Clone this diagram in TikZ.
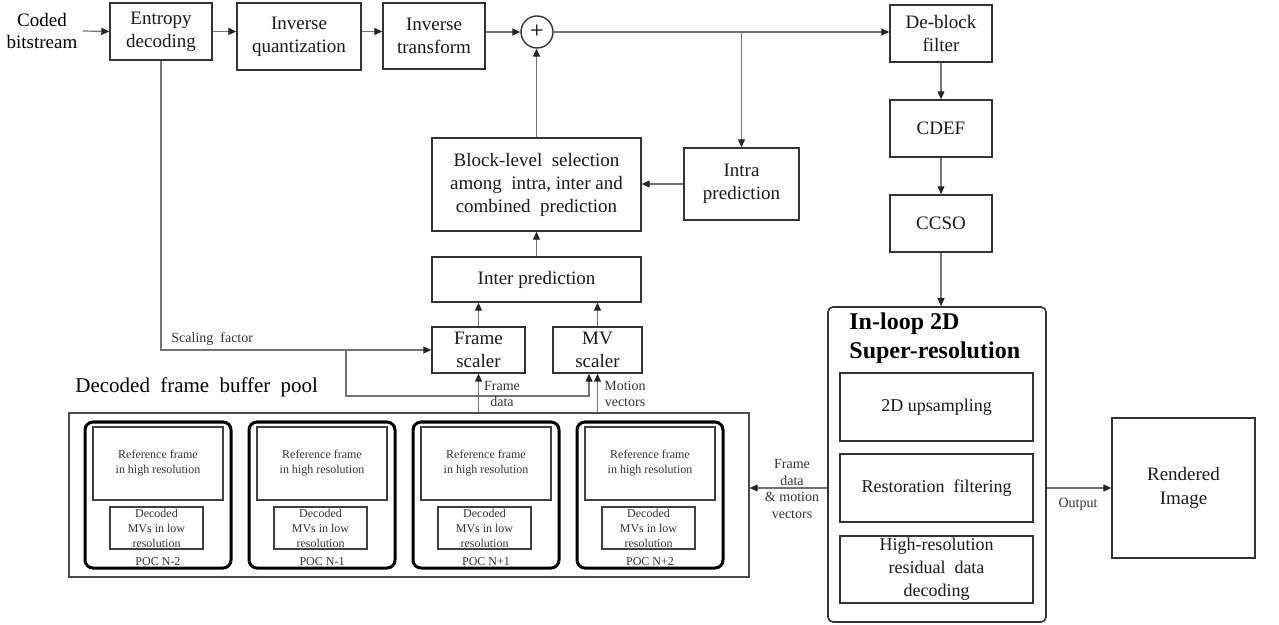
\documentclass[tikz,border=0pt]{standalone}
\usepackage{fontspec}
\setmainfont{Liberation Serif}
\usepackage{tikz}
\usetikzlibrary{arrows.meta}

\begin{document}
\begin{tikzpicture}[x=0.5pt, y=-0.5pt,
    >={Triangle[length=4pt,width=3.5pt,color=black!85]},
    blk/.style={draw=black!80, line width=0.7pt, align=center, inner sep=0pt,
        text=black!90, font=\fontsize{9.5}{11.5}\selectfont},
    sub/.style={blk, font=\fontsize{9}{11.5}\selectfont},
    tiny/.style={align=center, inner sep=0pt, text=black!80, font=\fontsize{6}{7.5}\selectfont},
    lbl/.style={align=center, inner sep=0pt, text=black!80, font=\fontsize{7}{8.3}\selectfont},
    wire/.style={draw=black!55, line width=0.6pt},
    flow/.style={wire, ->}]
        \useasboundingbox (0,0) rectangle (1279,625);

        % Input and top decoding chain
        \node[align=center, inner sep=0pt, font=\fontsize{9.5}{11}\selectfont] (bits) at (42,31) {Coded\\bitstream};
        \node[blk, minimum width=51pt, minimum height=28.5pt] (ent) at (161,31.5) {Entropy\\decoding};
        \node[blk, minimum width=62pt, minimum height=33.5pt] (iq) at (299,36.5) {Inverse\\quantization};
        \node[blk, minimum width=51pt, minimum height=33pt] (it) at (434,36) {Inverse\\transform};
        \node[draw=black!80, line width=0.7pt, circle, minimum size=16pt, inner sep=0pt,
            font=\fontsize{12}{12}\selectfont] (plus) at (537,32) {+};

        \draw[flow] ([xshift=2.5pt]bits.east) -- (ent.west);
        \draw[flow] (ent.east) -- (ent.east -| iq.west);
        \draw[flow] (iq.east |- ent.east) -- (it.west |- ent.east);
        \draw[flow] (it.east |- plus) -- (plus.west);

        % Loop filters on the right
        \node[blk, minimum width=51pt, minimum height=28.5pt] (dbk) at (941,33.5) {De-block\\filter};
        \node[blk, minimum width=51pt, minimum height=28.5pt] (cdef) at (941,128.5) {CDEF};
        \node[blk, minimum width=51pt, minimum height=28.5pt] (ccso) at (941,223.5) {CCSO};

        \draw[flow] (plus.east) -- (plus.east -| dbk.west);
        \draw[flow] (dbk.south) -- (cdef.north);
        \draw[flow] (cdef.south) -- (ccso.north);

        % Prediction
        \node[blk, minimum width=104.5pt, minimum height=46.5pt] (sel) at (536.5,184.5)
            {Block-level\ \ selection\\among\ \ intra,\ inter and\\combined\ \ prediction};
        \node[blk, minimum width=57.5pt, minimum height=36pt] (intra) at (741.5,184) {Intra\\prediction};
        \node[blk, minimum width=104.5pt, minimum height=22.5pt] (inter) at (536.5,279.5) {Inter prediction};
        \node[blk, minimum width=46.5pt, minimum height=23pt] (fscal) at (478.5,350) {Frame\\scaler};
        \node[blk, minimum width=44.5pt, minimum height=23pt] (mvscal) at (597.5,350) {MV\\scaler};

        \draw[flow] (intra.north |- plus) -- (intra.north);
        \draw[flow] (intra.west) -- (intra.west -| sel.east);
        \draw[flow] (sel.north) -- (sel.north |- plus.south);
        \draw[flow] (inter.north) -- (sel.south);
        \draw[flow] (fscal.north) -- (fscal.north |- inter.south);
        \draw[flow] (mvscal.north) -- (mvscal.north |- inter.south);

        % Scaling factor path
        \coordinate (sfsplit) at (346,350);
        \draw[flow] (ent.south) |- (fscal.west);
        \node[lbl, anchor=west] (sflbl) at (171,339) {Scaling\ \ factor};
        \draw[flow] (sfsplit) -- ++(0,46) -| ([xshift=-4.25pt]mvscal.south);

        % Decoded frame buffer pool
        \node[inner sep=0pt, anchor=south west, font=\fontsize{10.5}{12}\selectfont] (pooltitle)
            at (75,397) {Decoded\hspace{2.5pt} frame\hspace{2.5pt} buffer\hspace{2.5pt} pool};
        \node[draw=black!70, line width=0.6pt, minimum width=340pt, minimum height=82pt] (pool) at (409,495) {};
        \foreach \i/\poc in {0/N-2, 1/N-1, 2/N+1, 3/N+2} {
            \node[draw=black, line width=1.5pt, rounded corners=4pt, minimum width=73pt, minimum height=73pt]
                (poc\i) at (158+164*\i,495) {};
            \node[draw=black!75, line width=0.6pt, tiny, minimum width=65pt, minimum height=36.5pt]
                (ref\i) at (158+164*\i,463.5) {Reference frame\\in high resolution};
            \node[draw=black!75, line width=0.6pt, tiny, minimum width=46.5pt, minimum height=21pt]
                (mvs\i) at (156.5+164*\i,528) {Decoded\\MVs in low\\resolution};
            \node[tiny] (pocl\i) at (158+164*\i,562) {POC \poc};
        }

        % Pool to the scalers
        \draw[flow] (pool.north -| fscal.south) -- (fscal.south);
        \draw[flow] (pool.north -| mvscal.south) -- (mvscal.south);
        \node[lbl] (fdlbl) at (502,394) {Frame\\data};
        \node[lbl] (mvlbl) at (625,394) {Motion\\vectors};

        % In-loop super-resolution
        \node[draw=black!80, line width=0.8pt, rounded corners=2.5pt, minimum width=109pt, minimum height=157.5pt]
            (sr) at (937,464.5) {};
        \node[anchor=north west, align=left, inner sep=0pt, font=\fontsize{12}{14.5}\selectfont\bfseries]
            (srtitle) at (849,312) {In-loop 2D\\Super-resolution};
        \node[sub, minimum width=96.5pt, minimum height=34pt] (up) at (936.5,407) {2D upsampling};
        \node[sub, minimum width=96.5pt, minimum height=34pt] (rest) at (936.5,488) {Restoration\ \ filtering};
        \node[sub, minimum width=96.5pt, minimum height=33.5pt] (hres) at (936.5,569.5)
            {High-resolution\\residual\ \ data\\decoding};
        \node[sub, minimum width=71.5pt, minimum height=70pt, font=\fontsize{9.5}{12}\selectfont] (rend) at (1183.5,488)
            {Rendered\\Image};

        \draw[flow] (ccso.south) -- (ccso.south |- sr.north);
        \draw[flow] (rest.west -| sr.west) -- (rest.west -| pool.east);
        \node[lbl] (fblbl) at (792,489) {Frame\\data\\\& motion\\vectors};
        \draw[flow] (rest.east -| sr.east) -- (rend.west);
        \node[lbl] (outlbl) at (1078,504) {Output};
    \end{tikzpicture}
\end{document}
